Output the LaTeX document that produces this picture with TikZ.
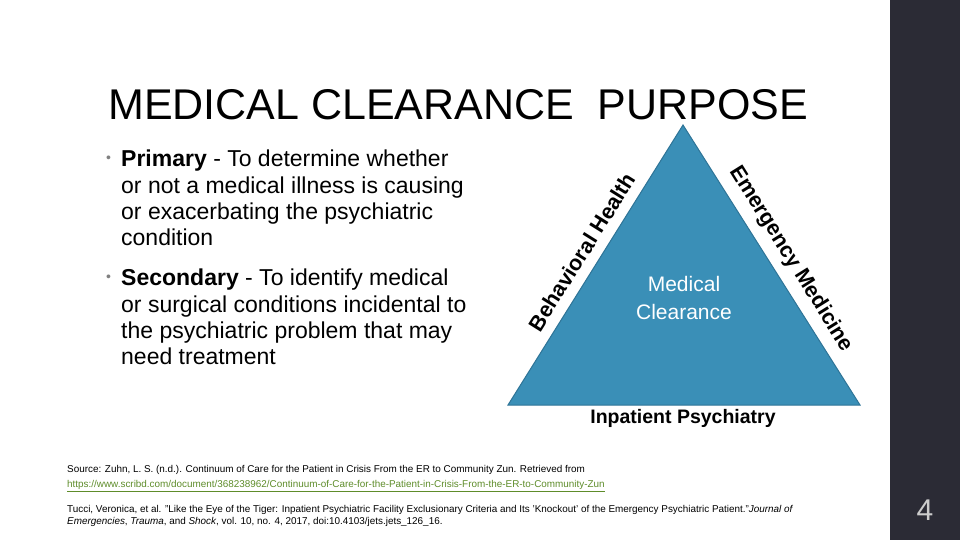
\documentclass[tikz,border=0pt]{standalone}
\usepackage{fontspec}
\setmainfont{Liberation Sans}
\definecolor{tri}{HTML}{3A8FB7}
\definecolor{triedge}{HTML}{2E7497}
\definecolor{bar}{HTML}{2B2B35}
\definecolor{link}{HTML}{5E8C2A}
\begin{document}
\begin{tikzpicture}[x=1pt,y=-1pt,
  bul/.style={anchor=north west,align=left,font=\fontsize{23}{26.3}\selectfont,inner sep=0pt},
  dot/.style={anchor=north west,inner sep=0pt,text=gray,font=\fontsize{14}{14}\selectfont},
  edge/.style={font=\fontsize{21.5}{24}\selectfont\bfseries,inner sep=0pt},
  src/.style={anchor=north west,align=left,inner sep=0pt}]
\useasboundingbox (0,0) rectangle (960,540);
\fill[bar] (890,0) rectangle (960,540);
\node[text=gray!40, font=\fontsize{30}{30}\selectfont] (num) at (925,510) {4};
\node[anchor=base west,inner sep=0pt,font=\fontsize{43}{43}\selectfont] (title) at (108,120) {MEDICAL CLEARANCE\ \ PURPOSE};
\node[dot] (b1) at (106,156) {•};
\node[bul] (t1) at (121,150) {\textbf{Primary} - To determine whether\\or not a medical illness is causing\\or exacerbating the psychiatric\\condition};
\node[dot] (b2) at (106,275) {•};
\node[bul] (t2) at (121,269) {\textbf{Secondary} - To identify medical\\or surgical conditions incidental to\\the psychiatric problem that may\\need treatment};
\coordinate (A) at (683,125);
\coordinate (L) at (508,405);
\coordinate (R) at (860,405);
\filldraw[fill=tri,draw=triedge,line width=1pt] (A) -- (L) -- (R) -- cycle;
\node[text=white,align=center,font=\fontsize{21}{28}\selectfont] (mc) at (684,298) {Medical\\Clearance};
\node[edge,rotate=58] (bh) at (582,252) {Behavioral Health};
\node[edge,rotate=-58] (em) at (791,259) {Emergency Medicine};
\node[font=\fontsize{19.5}{20}\selectfont\bfseries] (ip) at (683,418) {Inpatient Psychiatry};
\node[src,font=\fontsize{9.9}{15}\selectfont] (s1) at (67,465) {Source: Zuhn, L. S. (n.d.). Continuum of Care for the Patient in Crisis From the ER to Community Zun. Retrieved from\\\textcolor{link}{\underline{https://www.scribd.com/document/368238962/Continuum-of-Care-for-the-Patient-in-Crisis-From-the-ER-to-Community-Zun}}};
\node[src,font=\fontsize{9.9}{12.5}\selectfont] (s2) at (67,505) {Tucci, Veronica, et al. "Like the Eye of the Tiger: Inpatient Psychiatric Facility Exclusionary Criteria and Its 'Knockout' of the Emergency Psychiatric Patient."\textit{Journal of}\\\textit{Emergencies}, \textit{Trauma}, and \textit{Shock}, vol. 10, no. 4, 2017, doi:10.4103/jets.jets\_126\_16.};
\end{tikzpicture}
\end{document}
